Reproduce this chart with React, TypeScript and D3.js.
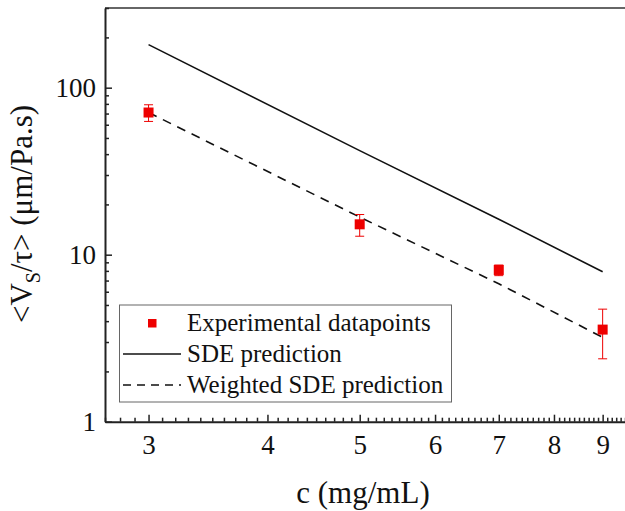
import * as d3 from 'd3'
import { useEffect, useRef } from 'react'

// concentration (mg/mL)
const conc = [3, 5, 7, 9]
// experimental <Vs/tau> with error bar limits
const measured = [71, 15.2, 8.1, 3.56]
const errLow = [62.8, 12.9, 7.49, 2.38]
const errHigh = [79, 17.4, 8.67, 4.72]
// model curves
const sde = [181, 42, 16.3, 7.9]
const weightedSde = [71, 16.8, 6.7, 3.2]

const xMajor = [3, 4, 5, 6, 7, 8, 9]
const yMajor = [1, 10, 100]

const legendItems = ['Experimental datapoints', 'SDE prediction', 'Weighted SDE prediction']

const W = 625,
  H = 511
const font = '"Liberation Serif", "Times New Roman", serif'
const red = '#ee0000'

const App = () => {
  const ref = useRef<SVGSVGElement>(null)

  useEffect(() => {
    const svg = d3.select(ref.current)
    svg.selectAll('*').remove()

    const left = 105,
      bottom = 421.7,
      top = 8

    const x = d3.scaleLog().domain([2.7, 9.5]).range([left, W])
    const y = d3.scaleLog().domain([1, 300]).range([bottom, top])

    const xMinor = d3
      .range(27, 96)
      .map((d) => d / 10)
      .filter((d) => !xMajor.includes(d))
    const yMinor: number[] = []
    yMajor.forEach((p) => {
      d3.range(2, 10).forEach((k) => {
        if (k * p <= 300) yMinor.push(k * p)
      })
    })

    // top border
    svg
      .append('line')
      .attr('x1', left)
      .attr('x2', W)
      .attr('y1', top)
      .attr('y2', top)
      .attr('stroke', '#333')
      .attr('stroke-width', 1.5)

    // x axis
    const gx = svg.append('g').attr('transform', 'translate(0,' + bottom + ')')
    gx.append('g')
      .call(d3.axisBottom(x).tickValues(xMinor).tickSize(-4).tickSizeOuter(0).tickFormat(() => ''))
      .call((g) => g.select('.domain').remove())
    gx.append('g')
      .call(
        d3
          .axisBottom(x)
          .tickValues(xMajor)
          .tickSize(-7)
          .tickSizeOuter(0)
          .tickPadding(13)
          .tickFormat(d3.format('d')),
      )
    gx.selectAll('line').attr('stroke', '#222').attr('stroke-width', 1.5)
    gx.selectAll('.domain').attr('stroke', '#222').attr('stroke-width', 2)
    gx.selectAll('text').attr('font-family', font).attr('font-size', 27).attr('fill', '#111')

    // y axis
    const gy = svg.append('g').attr('transform', 'translate(' + left + ',0)')
    gy.append('g')
      .call(d3.axisLeft(y).tickValues(yMinor).tickSize(-4).tickSizeOuter(0).tickFormat(() => ''))
      .call((g) => g.select('.domain').remove())
    gy.append('g')
      .call(
        d3
          .axisLeft(y)
          .tickValues(yMajor)
          .tickSize(-7)
          .tickSizeOuter(0)
          .tickPadding(9)
          .tickFormat(d3.format('d')),
      )
    gy.selectAll('line').attr('stroke', '#222').attr('stroke-width', 1.5)
    gy.selectAll('.domain').attr('stroke', '#222').attr('stroke-width', 2)
    gy.selectAll('text').attr('font-family', font).attr('font-size', 27).attr('fill', '#111')

    // lines
    const line = d3
      .line<number>()
      .x((d, i) => x(conc[i]))
      .y((d) => y(d))

    svg
      .append('path')
      .attr('d', line(sde))
      .attr('fill', 'none')
      .attr('stroke', '#111')
      .attr('stroke-width', 1.6)

    svg
      .append('path')
      .attr('d', line(weightedSde))
      .attr('fill', 'none')
      .attr('stroke', '#111')
      .attr('stroke-width', 1.6)
      .attr('stroke-dasharray', '9,7')

    // error bars + points
    const pts = svg.append('g')
    conc.forEach((c, i) => {
      const cx = x(c)
      pts
        .append('line')
        .attr('x1', cx)
        .attr('x2', cx)
        .attr('y1', y(errLow[i]))
        .attr('y2', y(errHigh[i]))
        .attr('stroke', red)
        .attr('stroke-width', 1)
      ;[errLow[i], errHigh[i]].forEach((v) => {
        pts
          .append('line')
          .attr('x1', cx - 4.5)
          .attr('x2', cx + 4.5)
          .attr('y1', y(v))
          .attr('y2', y(v))
          .attr('stroke', red)
          .attr('stroke-width', 1)
      })
      pts
        .append('rect')
        .attr('x', cx - 5)
        .attr('y', y(measured[i]) - 5)
        .attr('width', 10)
        .attr('height', 10)
        .attr('fill', red)
    })

    // legend
    const lg = svg.append('g')
    lg.append('rect')
      .attr('x', 119.5)
      .attr('y', 305)
      .attr('width', 332)
      .attr('height', 97)
      .attr('fill', 'white')
      .attr('stroke', '#666')
      .attr('stroke-width', 1)
    lg.append('rect').attr('x', 148).attr('y', 319).attr('width', 8.5).attr('height', 8.5).attr('fill', red)
    lg.append('line')
      .attr('x1', 123)
      .attr('x2', 181)
      .attr('y1', 354)
      .attr('y2', 354)
      .attr('stroke', '#111')
      .attr('stroke-width', 1.6)
    lg.append('line')
      .attr('x1', 123)
      .attr('x2', 181)
      .attr('y1', 385)
      .attr('y2', 385)
      .attr('stroke', '#111')
      .attr('stroke-width', 1.6)
      .attr('stroke-dasharray', '8,6')
    lg.selectAll('text.item')
      .data(legendItems)
      .enter()
      .append('text')
      .attr('class', 'item')
      .attr('x', 187)
      .attr('y', (d, i) => 331 + i * 31)
      .attr('font-family', font)
      .attr('font-size', 25)
      .attr('fill', '#111')
      .text((d) => d)

    // axis titles
    svg
      .append('text')
      .attr('x', 363)
      .attr('y', 503)
      .attr('text-anchor', 'middle')
      .attr('font-family', font)
      .attr('font-size', 31)
      .attr('fill', '#111')
      .text('c (mg/mL)')

    const yt = svg
      .append('text')
      .attr('transform', 'translate(32,214) rotate(-90)')
      .attr('text-anchor', 'middle')
      .attr('font-family', font)
      .attr('font-size', 31)
      .attr('fill', '#111')
    yt.append('tspan').text('<V')
    yt.append('tspan').attr('font-size', 20).attr('dy', 8).text('S')
    yt.append('tspan').attr('dy', -8).text('/τ> (μm/Pa.s)')
  }, [])

  return (
    <svg
      ref={ref}
      width={W}
      height={H}
      style={{ position: 'absolute', left: 0, top: 0, background: 'white' }}
    />
  )
}

export default App
